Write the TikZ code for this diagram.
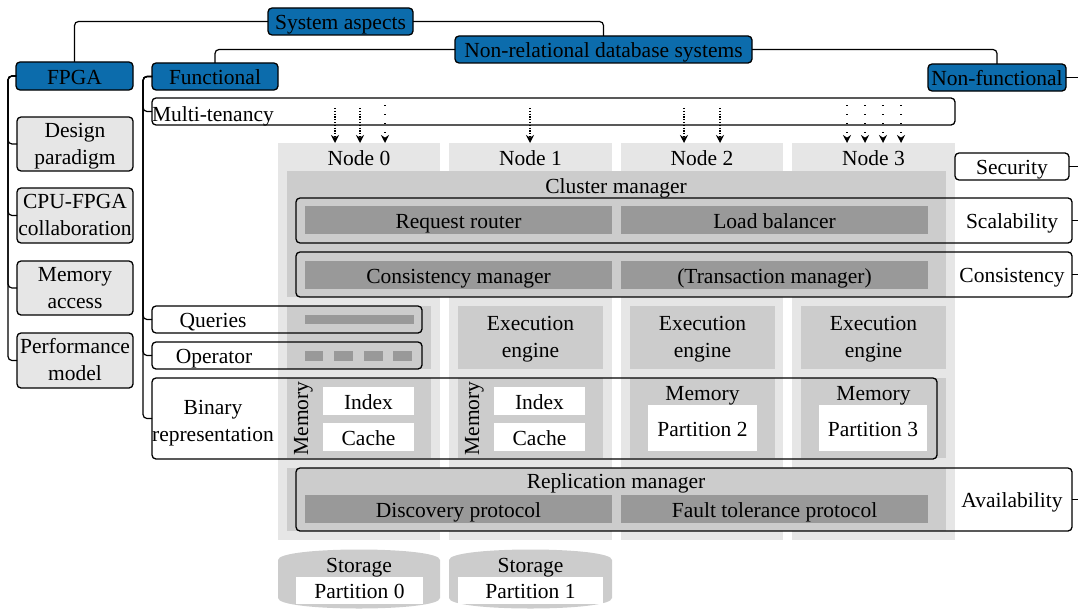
\documentclass[tikz,border=0pt]{standalone}
\usepackage{fontspec}
\setmainfont{Liberation Serif}
\usetikzlibrary{arrows.meta}
\definecolor{aspectblue}{RGB}{12,108,172}
\definecolor{lightgray}{RGB}{230,230,230}
\definecolor{midgray}{RGB}{204,204,204}
\definecolor{darkgray}{RGB}{153,153,153}
% \rbox{style}{name}{x1}{y1}{x2}{y2}{text}: box given by its corners
\newcommand\rbox[7]{\node[#1, minimum width={#5-#3}, minimum height={#6-#4}] (#2) at ({(#3+#5)/2},{(#4+#6)/2}) {#7};}
\begin{document}
\begin{tikzpicture}[x=1pt,y=-1pt,
  every node/.style={inner sep=0pt, outer sep=0pt, align=center,
    text height=18pt, text depth=2pt,
    font=\fontsize{21.5}{27}\selectfont},
  twolines/.style={text height=42pt, text depth=2pt},
  blank/.style={text height=0pt, text depth=0pt},
  bluebox/.style={draw, fill=aspectblue, rounded corners=4pt, line width=1.3pt},
  graybox/.style={draw, fill=lightgray, rounded corners=4pt, line width=1.3pt, twolines},
  framebox/.style={draw, rounded corners=4pt, line width=1.3pt},
  column/.style={fill=lightgray},
  region/.style={fill=midgray},
  bar/.style={fill=darkgray},
  slot/.style={fill=white},
  conn/.style={draw, rounded corners=4pt, line width=1.2pt},
  densearrow/.style={line width=1.2pt, dash pattern=on 1.2pt off 1.6pt,
    -{Stealth[length=8pt,width=8pt]}},
  loosearrow/.style={line width=1.4pt, dash pattern=on 1.4pt off 7.6pt,
    -{Stealth[length=8pt,width=8pt]}},
]
\useasboundingbox (0,0) rectangle (1078,610);
\coordinate (redge) at (1078,0);

% node columns
\rbox{column,blank}{col0}{278}{143}{440}{540}{}
\rbox{column,blank}{col1}{449}{143}{612}{540}{}
\rbox{column,blank}{col2}{621}{143}{783}{540}{}
\rbox{column,blank}{col3}{792}{143}{955}{540}{}
\node (n0) at (359,157) {Node 0};
\node (n1) at (530.5,157) {Node 1};
\node (n2) at (702,157) {Node 2};
\node (n3) at (873.5,157) {Node 3};

% shared managers
\rbox{region,blank}{cm}{287}{171}{946}{297}{}
\node (cmt) at (616,185) {Cluster manager};
\rbox{bar}{rr}{305}{206}{612}{234}{Request router}
\rbox{bar}{lb}{621}{206}{928}{234}{Load balancer}
\rbox{bar}{csm}{305}{261}{612}{289}{Consistency manager}
\rbox{bar}{tm}{621}{261}{928}{289}{(Transaction manager)}

\rbox{region,blank}{rm}{287}{468}{946}{531}{}
\node (rmt) at (616,480) {Replication manager};
\rbox{bar}{dp}{305}{495}{612}{523}{Discovery protocol}
\rbox{bar}{ft}{621}{495}{928}{523}{Fault tolerance protocol}

% execution engines
\rbox{region,blank}{ex0}{287}{306}{431}{369}{}
\rbox{bar,blank}{qbar}{305}{315}{414}{324}{}
\rbox{bar,blank}{ob1}{305}{351}{323}{361}{}
\rbox{bar,blank}{ob2}{334}{351}{353}{361}{}
\rbox{bar,blank}{ob3}{364}{351}{383}{361}{}
\rbox{bar,blank}{ob4}{393}{351}{412}{361}{}
\rbox{region,twolines}{ex1}{458}{306}{603}{369}{Execution\\engine}
\rbox{region,twolines}{ex2}{630}{306}{775}{369}{Execution\\engine}
\rbox{region,twolines}{ex3}{801}{306}{946}{369}{Execution\\engine}

% memories
\rbox{region,blank}{me0}{287}{378}{431}{458}{}
\node[rotate=90] (me0t) at (300,418.5) {Memory};
\rbox{slot}{ix0}{323}{387}{414}{415}{Index}
\rbox{slot}{ca0}{323}{423}{414}{451}{Cache}
\rbox{region,blank}{me1}{458}{378}{603}{458}{}
\node[rotate=90] (me1t) at (471,418.5) {Memory};
\rbox{slot}{ix1}{494}{387}{585}{415}{Index}
\rbox{slot}{ca1}{494}{423}{585}{451}{Cache}
\rbox{region,blank}{me2}{630}{378}{775}{458}{}
\node (me2t) at (702.5,392) {Memory};
\rbox{slot}{pa2}{648}{405}{757}{451}{Partition 2}
\rbox{region,blank}{me3}{801}{378}{946}{458}{}
\node (me3t) at (873.5,392) {Memory};
\rbox{slot}{pa3}{819}{405}{927}{451}{Partition 3}

% storage
\path[region] (278,560) .. controls (278,546) and (440,546) .. (440,560)
  -- (440,598) .. controls (440,612) and (278,612) .. (278,598) -- cycle;
\path[region] (449,560) .. controls (449,546) and (612,546) .. (612,560)
  -- (612,598) .. controls (612,612) and (449,612) .. (449,598) -- cycle;
\node (st0) at (359,564) {Storage};
\node (st1) at (530.5,564) {Storage};
\rbox{slot}{sp0}{296}{577}{423}{604}{Partition 0}
\rbox{slot}{sp1}{458}{577}{603}{604}{Partition 1}

% non-functional frames
\rbox{framebox}{sec}{955}{153}{1069}{180}{Security}
\rbox{framebox,blank}{scal}{296}{198}{1072}{243}{}
\node (scalt) at (1012,220) {Scalability};
\rbox{framebox,blank}{cons}{296}{252}{1072}{297}{}
\node (const) at (1012,274) {Consistency};
\rbox{framebox,blank}{avail}{296}{468}{1072}{531}{}
\node (availt) at (1012,499.5) {Availability};

% functional frames
\rbox{framebox,blank}{mt}{152}{98}{955}{125}{}
\node[anchor=west] (mtt) at (152,113) {Multi-tenancy};
\rbox{framebox,blank}{qu}{152}{306}{422}{333}{}
\node (qut) at (213,319) {Queries};
\rbox{framebox,blank}{op}{152}{342}{422}{369}{}
\node (opt) at (214,355) {Operator};
\rbox{framebox,blank}{bi}{152}{378}{937}{459}{}
\node[twolines] (bit) at (213,421) {Binary\\representation};

% aspect tree
\rbox{bluebox}{sys}{268}{8}{413}{35}{System aspects}
\rbox{bluebox}{nrdb}{455}{36}{752}{63}{Non-relational database systems}
\rbox{bluebox}{fpga}{16}{62}{133}{90}{FPGA}
\rbox{bluebox}{func}{152}{63}{278}{90}{Functional}
\rbox{bluebox}{nonf}{928}{64}{1066}{91}{Non-functional}

\rbox{graybox}{dsg}{17}{117}{133}{171}{Design\\paradigm}
\rbox{graybox}{cpu}{17}{188}{133}{243}{CPU-FPGA\\collaboration}
\rbox{graybox}{mac}{17}{261}{133}{315}{Memory\\access}
\rbox{graybox}{pm}{17}{333}{133}{388}{Performance\\model}

\path[conn] (sys.west) -| (fpga.north);
\path[conn] (sys.east) -| (nrdb.north);
\path[conn] (nrdb.west) -| (func.north);
\path[conn] (nrdb.east) -| (nonf.north);
\path[conn] (nonf.east) -- (nonf.east -| redge);

\foreach \c in {dsg,cpu,mac,pm}
  \path[conn] (fpga.west) -- ++(-8,0) |- (\c.west);
\foreach \c in {mt,qu,op,bi}
  \path[conn] (func.west) -- ++(-9,0) |- (\c.west);
\foreach \c in {sec,scal,cons,avail}
  \path[conn] (\c.east) -- (\c.east -| redge);

% requests from tenants to nodes
\coordinate (r0a) at (335,108);
\coordinate (r0b) at (360,108);
\coordinate (r0c) at (385,105);
\coordinate (r1a) at (530,108);
\coordinate (r2a) at (684,108);
\coordinate (r2b) at (720,108);
\coordinate (r3a) at (847,105);
\coordinate (r3b) at (865,105);
\coordinate (r3c) at (883,105);
\coordinate (r3d) at (901,105);
\draw[densearrow] (r0a) -- (r0a |- col0.north);
\draw[densearrow] (r0b) -- (r0b |- col0.north);
\draw[loosearrow] (r0c) -- (r0c |- col0.north);
\draw[densearrow] (r1a) -- (r1a |- col1.north);
\draw[densearrow] (r2a) -- (r2a |- col2.north);
\draw[densearrow] (r2b) -- (r2b |- col2.north);
\foreach \r in {r3a,r3b,r3c,r3d}
  \draw[loosearrow] (\r) -- (\r |- col3.north);
\end{tikzpicture}
\end{document}
